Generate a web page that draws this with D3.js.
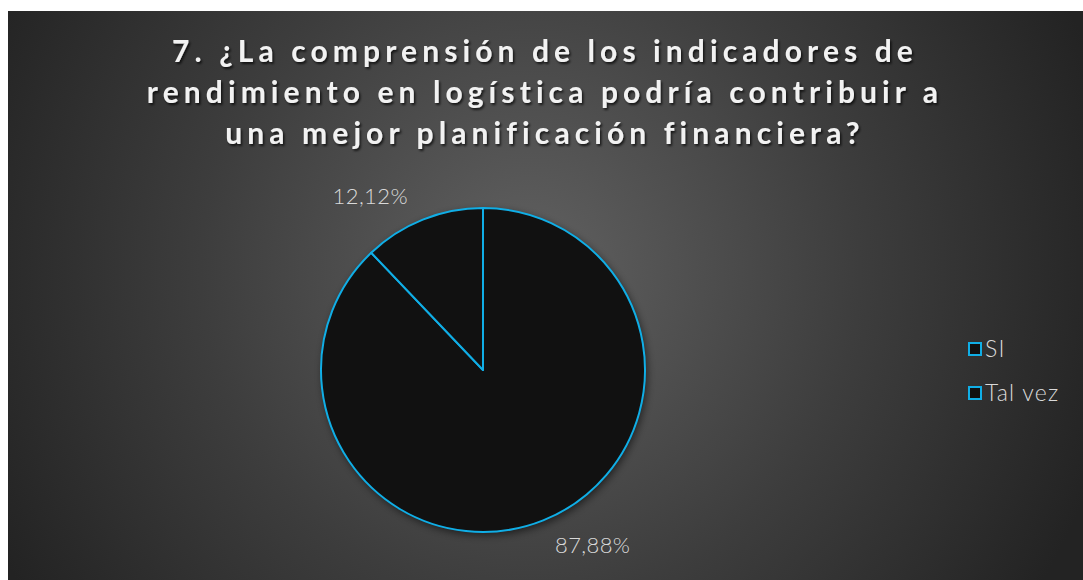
<!DOCTYPE html>
<html>
<head>
<meta charset="utf-8">
<script src="https://cdn.jsdelivr.net/npm/d3@7"></script>
<style>
  body { margin: 0; background: #fff; }
  svg { display: block; }
</style>
</head>
<body>
<div id="chart"></div>
<script>
// chart data
const categories = ['SI', 'Tal vez'];
const values = [87.88, 12.12];
const labels = ['87,88%', '12,12%'];
const titleLines = [
  '7. ¿La comprensión de los indicadores de',
  'rendimiento en logística podría contribuir a',
  'una mejor planificación financiera?'
];

const W = 1083, H = 580;
const svg = d3.select('#chart').append('svg')
  .attr('width', W)
  .attr('height', H);

const defs = svg.append('defs');
const grad = defs.append('radialGradient')
  .attr('id', 'bg')
  .attr('gradientUnits', 'userSpaceOnUse')
  .attr('cx', 530).attr('cy', 270).attr('r', 600);
grad.append('stop').attr('offset', '0%').attr('stop-color', '#616161');
grad.append('stop').attr('offset', '55%').attr('stop-color', '#3d3d3d');
grad.append('stop').attr('offset', '100%').attr('stop-color', '#232323');

const shadow = defs.append('filter').attr('id', 'shadow')
  .attr('x', '-20%').attr('y', '-20%').attr('width', '140%').attr('height', '140%');
shadow.append('feDropShadow')
  .attr('dx', 2).attr('dy', 3).attr('stdDeviation', 4)
  .attr('flood-color', '#000').attr('flood-opacity', 0.6);

const tshadow = defs.append('filter').attr('id', 'tshadow');
tshadow.append('feDropShadow')
  .attr('dx', 1.5).attr('dy', 2).attr('stdDeviation', 1.2)
  .attr('flood-color', '#000').attr('flood-opacity', 0.7);

svg.append('rect')
  .attr('x', 8).attr('y', 11)
  .attr('width', W - 8).attr('height', H - 11)
  .attr('fill', 'url(#bg)');

// title
const title = svg.append('text')
  .attr('text-anchor', 'middle')
  .attr('font-family', 'Lato, "Open Sans", sans-serif')
  .attr('font-weight', 'bold')
  .attr('font-size', 30)
  .attr('letter-spacing', 5.1)
  .attr('fill', '#f2f2f2')
  .attr('filter', 'url(#tshadow)');
titleLines.forEach((t, i) => {
  title.append('tspan')
    .attr('x', 545)
    .attr('y', 62 + i * 41)
    .text(t);
});

// pie
const cx = 483, cy = 370, r = 162;
const pie = d3.pie().sort(null).value(d => d)(values);
const arc = d3.arc().innerRadius(0).outerRadius(r);

const g = svg.append('g').attr('transform', `translate(${cx},${cy})`);
g.append('circle').attr('r', r).attr('fill', '#111').attr('filter', 'url(#shadow)');
g.selectAll('path.slice')
  .data(pie)
  .enter().append('path')
  .attr('class', 'slice')
  .attr('d', arc)
  .attr('fill', '#111111')
  .attr('stroke', '#10aee6')
  .attr('stroke-width', 2)
  .attr('stroke-linejoin', 'round');

// data labels, placed outside the pie (best-fit positions)
const labelAngle = [148 * Math.PI / 180, -33 * Math.PI / 180];
const labelDist = r + 45;
g.selectAll('text.lbl')
  .data(pie)
  .enter().append('text')
  .attr('class', 'lbl')
  .attr('x', (d, i) => Math.sin(labelAngle[i]) * labelDist)
  .attr('y', (d, i) => -Math.cos(labelAngle[i]) * labelDist)
  .attr('text-anchor', 'middle')
  .attr('dy', '0.35em')
  .attr('font-family', 'Lato, "Open Sans", sans-serif')
  .attr('font-weight', 300)
  .attr('font-size', 22)
  .attr('letter-spacing', 0.4)
  .attr('fill', '#d9d9d9')
  .text((d, i) => labels[i]);

// legend
const legend = svg.append('g').attr('transform', 'translate(968,349)');
const item = legend.selectAll('g')
  .data(categories)
  .enter().append('g')
  .attr('transform', (d, i) => `translate(0,${i * 44})`);
item.append('rect')
  .attr('x', 1).attr('y', -6)
  .attr('width', 12).attr('height', 12)
  .attr('fill', '#111')
  .attr('stroke', '#10aee6')
  .attr('stroke-width', 2);
item.append('text')
  .attr('x', 17)
  .attr('dy', '0.35em')
  .attr('font-family', 'Lato, "Open Sans", sans-serif')
  .attr('font-weight', 300)
  .attr('font-size', 23)
  .attr('letter-spacing', 1.2)
  .attr('fill', '#d9d9d9')
  .text(d => d);
</script>
</body>
</html>
